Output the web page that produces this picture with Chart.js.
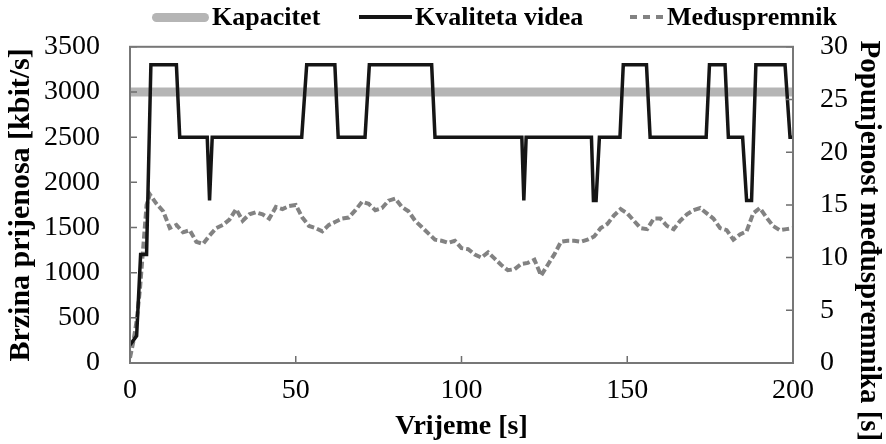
<!DOCTYPE html>
<html>
<head>
<meta charset="utf-8">
<script src="https://cdn.jsdelivr.net/npm/chart.js@4.4.1/dist/chart.umd.min.js"></script>
<style>
  html, body { margin: 0; padding: 0; background: #fff; }
  #wrap { position: relative; width: 886px; height: 444px; }
  #legend { position: absolute; left: 0; top: 0; width: 886px; height: 34px; }
  .item { position: absolute; top: 0; height: 34px; display: flex; align-items: center;
          font-family: 'Liberation Serif', 'Times New Roman', serif; font-weight: bold;
          font-size: 26px; color: #000; white-space: nowrap; }
  .swatch { display: inline-block; margin-right: 3px; }
</style>
</head>
<body>
<div id="wrap">
  <canvas id="chart" width="886" height="444"></canvas>
  <div id="legend"></div>
</div>
<script>
// podaci ocitani sa slike
const seriesNames = ['Kapacitet', 'Kvaliteta videa', 'Međuspremnik'];

const kapacitetT = [0, 200];
const kapacitet = [3000, 3000];

const kvalitetaT = [0, 2, 3.2, 5, 6.3, 14, 15, 23.3, 24, 24.8, 51.8, 53.3, 61.8, 62.8, 70.9, 72.2,
  91, 92, 118.2, 118.8, 119.5, 139.2, 139.8, 140.6, 141.6, 147.8, 148.8, 155.8, 156.9, 173.8,
  174.8, 179.5, 180.5, 184.8, 186, 187.5, 188.8, 197.6, 199.1, 200];
const kvaliteta = [200, 300, 1200, 1200, 3300, 3300, 2500, 2500, 1800, 2500, 2500, 3300, 3300, 2500, 2500, 3300,
  3300, 2500, 2500, 1800, 2500, 2500, 1800, 1800, 2500, 2500, 3300, 3300, 2500, 2500,
  3300, 3300, 2500, 2500, 1800, 1800, 3300, 3300, 2500, 2500];

const spremnikT = [0, 1, 2, 3, 4, 5, 6, 8, 10, 12, 14, 16, 18, 20, 22, 24, 26, 28, 30, 32, 34, 36, 38, 40,
  42, 44, 46, 48, 50, 52, 54, 56, 58, 60, 62, 64, 66, 68, 70, 72, 74, 76, 78, 80, 82, 84, 86, 88,
  90, 92, 94, 96, 98, 100, 102, 104, 106, 108, 110, 112, 114, 116, 118, 120, 122, 124, 126, 128,
  130, 132, 134, 136, 138, 140, 142, 144, 146, 148, 150, 152, 154, 156, 158, 160, 162, 164, 166,
  168, 170, 172, 174, 176, 178, 180, 182, 184, 186, 188, 190, 192, 194, 196, 198, 200];
const spremnik = [0.5, 2, 4, 7, 11, 15, 16, 15.1, 14.4, 12.8, 13.1, 12.4, 12.6, 11.5, 11.3, 12.1, 12.8, 13.1,
  13.6, 14.6, 13.5, 14.1, 14.3, 14.1, 13.7, 14.8, 14.6, 14.9, 15, 13.8, 13.0, 12.8, 12.5, 13.1,
  13.4, 13.7, 13.8, 14.5, 15.3, 15.1, 14.5, 14.7, 15.4, 15.6, 14.8, 14.4, 13.5, 12.9, 12.3, 11.7,
  11.6, 11.4, 11.6, 10.9, 10.8, 10.3, 10.0, 10.5, 9.9, 9.3, 8.8, 8.9, 9.4, 9.5, 9.8, 8.3, 9.3,
  10.3, 11.5, 11.6, 11.6, 11.5, 11.7, 12.0, 12.8, 13.2, 14.0, 14.6, 14.2, 13.5, 12.8, 12.7, 13.7,
  13.7, 13.0, 12.7, 13.5, 14.1, 14.5, 14.7, 14.2, 13.7, 12.8, 12.6, 11.7, 12.2, 12.5, 14.2, 14.7,
  13.8, 13.0, 12.6, 12.7, 12.8];

const xTicks = [0, 50, 100, 150, 200];
const yLeftTicks = [0, 500, 1000, 1500, 2000, 2500, 3000, 3500];
const yRightTicks = [0, 5, 10, 15, 20, 25, 30];

function toPoints(xs, ys) {
  return xs.map((x, i) => ({ x: x, y: ys[i] }));
}

const serif = 'Liberation Serif, Times New Roman, serif';

// okvir, unutarnje crtice i pomak desnog naslova
const framePlugin = {
  id: 'frame',
  afterLayout(chart) {
    const s = chart.scales.y1;
    if (!s._titleMoved) {
      const orig = s.drawTitle;
      s.drawTitle = function() {
        this.top += 36; this.bottom += 36;
        orig.apply(this, arguments);
        this.top -= 36; this.bottom -= 36;
      };
      s._titleMoved = true;
    }
  },
  afterDraw(chart) {
    const ctx = chart.ctx;
    const a = chart.chartArea;
    ctx.save();
    ctx.strokeStyle = '#6e6e6e';
    ctx.lineWidth = 1.5;
    const len = 7;
    const sx = chart.scales.x, sl = chart.scales.y, sr = chart.scales.y1;
    ctx.beginPath();
    sx.ticks.forEach(t => {
      const px = sx.getPixelForValue(t.value);
      ctx.moveTo(px, a.bottom); ctx.lineTo(px, a.bottom - len);
    });
    sl.ticks.forEach(t => {
      const py = sl.getPixelForValue(t.value);
      ctx.moveTo(a.left, py); ctx.lineTo(a.left + len, py);
    });
    sr.ticks.forEach(t => {
      const py = sr.getPixelForValue(t.value);
      ctx.moveTo(a.right, py); ctx.lineTo(a.right - len, py);
    });
    ctx.stroke();
    ctx.lineWidth = 2;
    ctx.strokeStyle = '#777';
    ctx.strokeRect(a.left, a.top, a.right - a.left, a.bottom - a.top);
    ctx.restore();
  }
};

const plainTick = v => String(v);

const chart = new Chart(document.getElementById('chart'), {
  type: 'line',
  data: {
    datasets: [
      {
        label: seriesNames[0],
        data: toPoints(kapacitetT, kapacitet),
        borderColor: '#b5b5b5',
        borderWidth: 9,
        borderCapStyle: 'round',
        pointRadius: 0,
        yAxisID: 'y',
        order: 3
      },
      {
        label: seriesNames[1],
        data: toPoints(kvalitetaT, kvaliteta),
        borderColor: '#151515',
        borderWidth: 3.5,
        pointRadius: 0,
        yAxisID: 'y',
        order: 1
      },
      {
        label: seriesNames[2],
        data: toPoints(spremnikT, spremnik),
        borderColor: '#828282',
        borderWidth: 4,
        borderDash: [7, 3],
        pointRadius: 0,
        yAxisID: 'y1',
        order: 2
      }
    ]
  },
  options: {
    responsive: false,
    animation: false,
    layout: { padding: { top: 45 } },
    plugins: {
      tooltip: { enabled: false },
      legend: { display: false }
    },
    scales: {
      x: {
        type: 'linear',
        min: 0,
        max: 200,
        afterBuildTicks(s) { s.ticks = xTicks.map(v => ({ value: v })); },
        afterFit(s) { s.height = 81; },
        grid: { display: false, drawTicks: false },
        border: { display: false },
        ticks: { color: '#000', padding: 11, callback: plainTick, font: { family: serif, size: 28 } },
        title: {
          display: true,
          text: 'Vrijeme [s]',
          color: '#000',
          padding: { top: 0, bottom: 0 },
          font: { family: serif, size: 28, weight: 'bold' }
        }
      },
      y: {
        position: 'left',
        min: 0,
        max: 3500,
        afterBuildTicks(s) { s.ticks = yLeftTicks.map(v => ({ value: v })); },
        afterFit(s) { s.width = 130; },
        grid: { display: false, drawTicks: false },
        border: { display: false },
        ticks: { color: '#000', padding: 30, callback: plainTick, font: { family: serif, size: 28 } },
        title: {
          display: true,
          text: 'Brzina prijenosa [kbit/s]',
          color: '#000',
          padding: { top: 3, bottom: 0 },
          font: { family: serif, size: 30, weight: 'bold' }
        }
      },
      y1: {
        position: 'right',
        min: 0,
        max: 30,
        afterBuildTicks(s) { s.ticks = yRightTicks.map(v => ({ value: v })); },
        afterFit(s) { s.width = 93; },
        grid: { display: false, drawTicks: false },
        border: { display: false },
        ticks: { color: '#000', padding: 27, callback: plainTick, font: { family: serif, size: 28 } },
        title: {
          display: true,
          text: 'Popunjenost međuspremnika [s]',
          color: '#000',
          padding: { top: 0, bottom: 0 },
          font: { family: serif, size: 29, weight: 'bold' }
        }
      }
    }
  },
  plugins: [framePlugin]
});

// legenda iznad grafa, iz skupova podataka
const legendLeft = [152, 359, 630];
const swatchWidth = [57, 53, 34];
const legendEl = document.getElementById('legend');
chart.data.datasets.forEach((ds, i) => {
  const item = document.createElement('div');
  item.className = 'item';
  item.style.left = legendLeft[i] + 'px';
  const sw = document.createElement('span');
  sw.className = 'swatch';
  sw.style.width = swatchWidth[i] + 'px';
  sw.style.height = ds.borderWidth + 'px';
  if (ds.borderDash) {
    const d = ds.borderDash;
    sw.style.background = 'repeating-linear-gradient(90deg, ' + ds.borderColor + ' 0 ' + d[0] + 'px, transparent ' +
      d[0] + 'px ' + (d[0] + d[1] * 2) + 'px)';
  } else {
    sw.style.background = ds.borderColor;
    if (ds.borderCapStyle === 'round') sw.style.borderRadius = (ds.borderWidth / 2) + 'px';
  }
  item.appendChild(sw);
  item.appendChild(document.createTextNode(ds.label));
  legendEl.appendChild(item);
});
</script>
</body>
</html>
